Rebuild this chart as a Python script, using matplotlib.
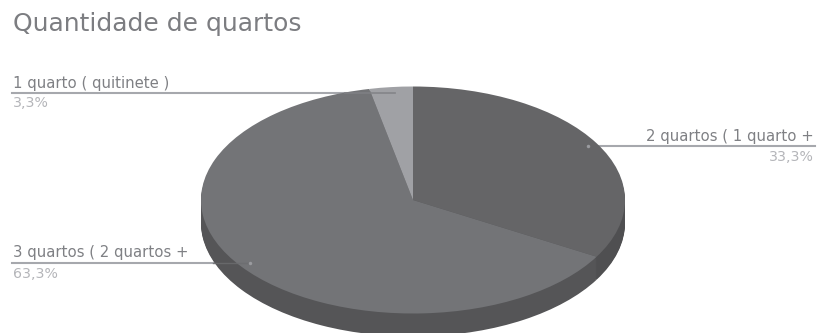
import matplotlib
matplotlib.use('Agg')
import matplotlib.pyplot as plt

plt.rcParams['font.family'] = ['DejaVu Sans']

title = 'Quantidade de quartos'
labels = ['2 quartos ( 1 quarto +', '3 quartos ( 2 quartos +', '1 quarto ( quitinete )']
percent_labels = ['33,3%', '63,3%', '3,3%']
values = [33.3, 63.3, 3.3]

top_colors = ['#656567', '#737477', '#a0a1a5']
side_colors = ['#4f4f51', '#555557', '#555557']

# Pie geometry, in pixels of the saved image.
W, H = 818, 333
CX, CY = 413, 200
RX, RY = 212, 113.5
DEPTH = 23

fig = plt.figure(figsize=(W / 100, H / 100), dpi=100, facecolor='white')

# Leader lines go underneath the pie.
back = fig.add_axes([0, 0, 1, 1], zorder=0)
back.set_xlim(0, W)
back.set_ylim(H, 0)
back.axis('off')
line_color = '#a6a8ad'
back.plot([12, 395], [92.5, 92.5], color=line_color, linewidth=1.5)
back.plot([588, 815], [145.5, 145.5], color=line_color, linewidth=1.5)
back.plot([12, 250], [262.5, 262.5], color=line_color, linewidth=1.5)

pie_ax = fig.add_axes([0, 0, 1, 1], zorder=1)
pie_ax.patch.set_alpha(0)

# Stack of shifted pies makes the side wall, the top face goes last.
for step in range(DEPTH, 1, -1):
    pie_ax.pie(values, colors=side_colors, startangle=90, counterclock=False,
               center=(0, -step / RY), wedgeprops={'linewidth': 0})
pie_ax.pie(values, colors=top_colors, startangle=90, counterclock=False,
           wedgeprops={'linewidth': 0})
pie_ax.set_aspect('auto')
pie_ax.set_xlim(-CX / RX, (W - CX) / RX)
pie_ax.set_ylim(-(H - CY) / RY, CY / RY)

# Faint parts of the leaders and their end dots, over the pie.
front = fig.add_axes([0, 0, 1, 1], zorder=2)
front.set_xlim(0, W)
front.set_ylim(H, 0)
front.axis('off')
front.plot([345, 395], [92.5, 92.5], color='#808185', linewidth=1.3, alpha=0.8)
front.plot([213, 250], [262.5, 262.5], color='#6c6d70', linewidth=1, alpha=0.8)
front.plot([588, 250], [145.5, 262.5], linestyle='none', marker='o', markersize=2.5,
           markeredgewidth=0, color='#9a9b9f')

front.text(13, 31, title, fontsize=18, color='#7c7d81', va='baseline')
front.text(13, 88, labels[2], fontsize=10.7, color='#7f8084', va='baseline')
front.text(13, 107, percent_labels[2], fontsize=10.2, color='#b4b5b9', va='baseline')
front.text(814, 141.5, labels[0], fontsize=10.7, color='#7f8084', va='baseline', ha='right')
front.text(814, 161, percent_labels[0], fontsize=10.2, color='#b4b5b9', va='baseline', ha='right')
front.text(13, 257.5, labels[1], fontsize=10.7, color='#7f8084', va='baseline')
front.text(13, 277.5, percent_labels[1], fontsize=10.2, color='#b4b5b9', va='baseline')

fig.savefig('out.png', dpi=100)
